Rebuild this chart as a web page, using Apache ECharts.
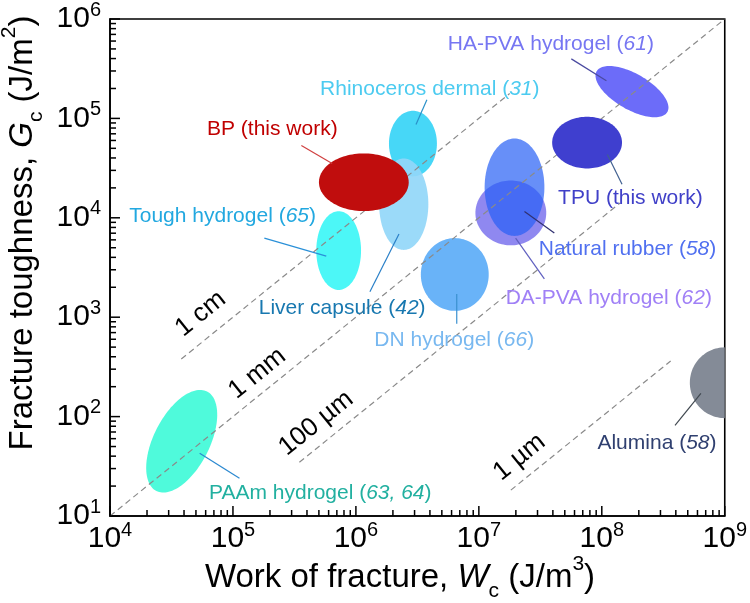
<!DOCTYPE html>
<html><head><meta charset="utf-8">
<script src="https://cdn.jsdelivr.net/npm/echarts@6/dist/echarts.min.js"></script>
<style>html,body{margin:0;padding:0;background:#fff}#c{width:750px;height:603px}</style>
</head><body><div id="c"></div>
<script>
const FONT = '"Liberation Sans", Arial, Helvetica, sans-serif';

// ---------- data ----------
const xTickValues = [1e4, 1e5, 1e6, 1e7, 1e8, 1e9];
const yTickValues = [1e1, 1e2, 1e3, 1e4, 1e5, 1e6];
const minorSteps = [2, 3, 4, 5, 6, 7, 8, 9];

// material regions: centre (W, G), half-span in decades, tilt in degrees
const regionNames = ['PAAm hydrogel', 'Tough hydrogel', 'Rhinoceros dermal', 'Liver capsule', 'DN hydrogel',
  'DA-PVA hydrogel', 'Natural rubber', 'HA-PVA hydrogel', 'Alumina', 'TPU', 'BP'];
const regionW = [3.83e4, 7.24e5, 2.91e6, 2.45e6, 6.37e6, 1.82e7, 1.95e7, 1.76e8, 1.0e9, 7.59e7, 1.16e6];
const regionG = [56.5, 4.68e3, 5.58e4, 1.37e4, 2.69e3, 1.12e4, 2.03e4, 1.86e5, 219, 5.71e4, 2.28e4];
const regionSpanW = [0.454, 0.182, 0.195, 0.20, 0.276, 0.288, 0.243, 0.332, 0.284, 0.284, 0.365];
const regionSpanG = [0.281, 0.396, 0.33, 0.46, 0.366, 0.326, 0.49, 0.18, 0.356, 0.26, 0.29];
const regionTilt = [63, 0, 0, 0, 0, 0, 0, -30, 0, 0, 0];

// characteristic-length lines (G = L * W), end points
const scaleNames = ['1 cm', '1 mm', '100 µm', '1 µm'];
const scaleLine1cm = [[3.8e4, 3.8e2], [1.78e7, 1.78e5]];
const scaleLine1mm = [[1e4, 1e1], [1e9, 1e6]];
const scaleLine100um = [[3.47e5, 34.7], [1.41e8, 1.41e4]];
const scaleLine1um = [[1.82e7, 18.2], [3.63e8, 363]];

// ---------- styles / layout ----------
const regionColors = ['#4ffadb', '#4cf7f7', '#47d7f7', 'rgba(147,215,249,0.92)', '#69b3f8',
  'rgba(96,85,233,0.7)', 'rgba(39,96,245,0.7)', '#6c6cf9', '#848b97', '#3f3fcf', '#c00d0d'];
const underIdx = [0, 1, 2, 3, 4, 5, 6, 7, 8];
const overIdx = [9, 10];

const labelTexts = ['PAAm hydrogel ({i|63, 64})', 'Tough hydrogel ({i|65})', 'Rhinoceros dermal ({i|31})',
  'Liver capsule ({i|42})', 'DN hydrogel ({i|66})', 'DA-PVA hydrogel ({i|62})', 'Natural rubber ({i|58})',
  'HA-PVA hydrogel ({i|61})', 'Alumina ({i|58})', 'TPU (this work)', 'BP (this work)'];
const labelColors = ['#22b0a0', '#22a8e0', '#4ccbf0', '#1878b0', '#78b8f0', '#a080f6', '#5070f0',
  '#7676f2', '#304070', '#4040c8', '#c00000'];
const leaderColors = ['#2a88d0', '#2a90d8', '#2a90c8', '#2a80c8', '#3a90d0', '#6060c0', '#303070',
  '#4a4aa0', '#404850', '#406090', '#d04040'];
// label anchors and leader ends, in data coordinates
const labelAt = [[5.13e5, 17.0], [8.24e4, 1.04e4], [3.99e6, 1.95e5], [7.73e5, 1.24e3], [6.31e6, 581],
  [1.14e8, 1.56e3], [1.62e8, 4.84e3], [3.85e7, 5.61e5], [2.81e8, 53.8], [1.71e8, 1.57e4], [2.09e5, 7.73e4]];
const leaderAt = [
  [[5.36e4, 42.8], [1.13e5, 24.0]],
  [[1.8e5, 6.25e3], [5.74e5, 4.12e3]],
  [[3.78e6, 1.54e5], [3.08e6, 8.67e4]],
  [[2.24e6, 6.86e3], [1.30e6, 1.80e3]],
  [[6.61e6, 1.71e3], [6.61e6, 859]],
  [[1.99e7, 6.25e3], [3.41e7, 2.43e3]],
  [[2.35e7, 1.16e4], [4.11e7, 7.02e3]],
  [[5.65e7, 3.97e5], [1.09e8, 2.39e5]],
  [[3.94e8, 81.6], [6.4e8, 171]],
  [[1.11e8, 4.34e4], [1.46e8, 2.17e4]],
  [[3.6e5, 5.33e4], [6.41e5, 3.52e4]]
];
const scaleLabelAt = [[5.46e4, 1.08e3], [1.58e5, 271], [4.75e5, 85.5], [2.14e7, 39.0]];

// ---------- helpers ----------
function decadePx(api) {
  const o = api.coord([xTickValues[0], yTickValues[0]]);
  const x1 = api.coord([xTickValues[1], yTickValues[0]]);
  const y1 = api.coord([xTickValues[0], yTickValues[1]]);
  return [x1[0] - o[0], o[1] - y1[1]];
}
function renderEllipse(params, api) {
  const i = api.value(2);
  const c = api.coord([api.value(0), api.value(1)]);
  const d = decadePx(api);
  const a = regionSpanW[i] * d[0], b = regionSpanG[i] * d[1];
  const th = regionTilt[i] * Math.PI / 180, ct = Math.cos(th), st = Math.sin(th);
  const pts = [];
  const N = 120;
  for (let k = 0; k < N; k++) {
    const t = k / N * Math.PI * 2;
    const u = a * Math.cos(t), v = b * Math.sin(t);
    pts.push([c[0] + u * ct - v * st, c[1] - (u * st + v * ct)]);
  }
  const cs = params.coordSys;
  return {
    type: 'polygon', shape: { points: pts }, style: { fill: regionColors[i] },
    clipPath: { type: 'rect', shape: { x: cs.x, y: cs.y, width: cs.width, height: cs.height } }
  };
}
function renderLabel(params, api) {
  const i = api.value(2);
  const p = api.coord([api.value(0), api.value(1)]);
  const a = api.coord(leaderAt[i][0]), b = api.coord(leaderAt[i][1]);
  return {
    type: 'group', children: [
      { type: 'line', shape: { x1: a[0], y1: a[1], x2: b[0], y2: b[1] }, style: { stroke: leaderColors[i], lineWidth: 1.2 } },
      { type: 'text', x: p[0], y: p[1], style: {
        text: labelTexts[i], fill: labelColors[i], fontSize: 21, fontFamily: FONT,
        align: 'center', verticalAlign: 'middle',
        rich: { i: { fontSize: 21, fontFamily: FONT, fontStyle: 'italic', fill: labelColors[i] } }
      } }
    ]
  };
}
function renderScaleLabel(params, api) {
  const i = api.value(2);
  const p = api.coord([api.value(0), api.value(1)]);
  const d = decadePx(api);
  return { type: 'text', x: p[0], y: p[1], rotation: Math.atan2(d[1], d[0]),
    style: { text: scaleNames[i], fill: '#000', fontSize: 26, fontFamily: FONT, align: 'center', verticalAlign: 'middle' } };
}
// tick marks (major = decades, minor = 2..9 x decade), drawn inward
const tickItems = [];
xTickValues.forEach((v, k) => {
  tickItems.push([v, yTickValues[0], 0, 1]);
  if (k < xTickValues.length - 1) minorSteps.forEach(m => tickItems.push([v * m, yTickValues[0], 0, 0]));
});
yTickValues.forEach((v, k) => {
  tickItems.push([xTickValues[0], v, 1, 1]);
  if (k < yTickValues.length - 1) minorSteps.forEach(m => tickItems.push([xTickValues[0], v * m, 1, 0]));
});
function renderTick(params, api) {
  const p = api.coord([api.value(0), api.value(1)]);
  const isY = api.value(2), major = api.value(3);
  const len = major ? 10 : 6;
  const shape = isY ? { x1: p[0], y1: p[1], x2: p[0] + len, y2: p[1] } : { x1: p[0], y1: p[1], x2: p[0], y2: p[1] - len };
  return { type: 'line', shape, style: { stroke: '#000', lineWidth: 1.5 } };
}

const tickFmt = v => '{a|10}{s|' + Math.round(Math.log10(v)) + '}';
const tickRich = {
  a: { fontSize: 30, fontFamily: FONT, color: '#000', lineHeight: 38 },
  s: { fontSize: 20, fontFamily: FONT, color: '#000', lineHeight: 26, verticalAlign: 'top' }
};
function axisCommon() {
  return {
    type: 'log', logBase: 10, splitNumber: 5,
    axisLine: { show: true, lineStyle: { color: '#000', width: 1.6 } },
    axisTick: { show: false }, minorTick: { show: false },
    splitLine: { show: false }, minorSplitLine: { show: false },
  };
}
const titleRich = {
  a: { fontSize: 33, fontFamily: FONT, fill: '#000', lineHeight: 48 },
  it: { fontSize: 33, fontFamily: FONT, fontStyle: 'italic', fill: '#000', lineHeight: 48 },
  sub: { fontSize: 21, fontFamily: FONT, fill: '#000', lineHeight: 21, verticalAlign: 'bottom' },
  sup: { fontSize: 21, fontFamily: FONT, fill: '#000', lineHeight: 33, verticalAlign: 'top' }
};

const chart = echarts.init(document.getElementById('c'), null, { renderer: 'canvas' });
const lineStyle = { type: [6, 4], color: '#8a8a8a', width: 1.2 };
chart.setOption({
  animation: false,
  backgroundColor: '#fff',
  grid: { left: 110, top: 17, right: 23, bottom: 87, show: true, borderColor: '#000', borderWidth: 1.6 },
  xAxis: Object.assign(axisCommon(), {
    min: xTickValues[0], max: xTickValues[xTickValues.length - 1],
    axisLabel: { formatter: tickFmt, rich: tickRich, margin: 4 }
  }),
  yAxis: Object.assign(axisCommon(), {
    min: yTickValues[0], max: yTickValues[yTickValues.length - 1],
    axisLabel: { formatter: tickFmt, rich: tickRich, margin: 9 }
  }),
  graphic: [
    { type: 'text', x: 23, y: 233, rotation: Math.PI / 2, style: {
      text: '{a|Fracture toughness, }{it|G}{sub|c}{a| (J/m}{sup|2}{a|)}', align: 'center', verticalAlign: 'middle', rich: titleRich } },
    { type: 'text', x: 400, y: 578, style: {
      text: '{a|Work of fracture, }{it|W}{sub|c}{a| (J/m}{sup|3}{a|)}', align: 'center', verticalAlign: 'middle', rich: titleRich } }
  ],
  series: [
    { type: 'custom', z: 2, silent: true, renderItem: renderEllipse,
      data: underIdx.map(i => [regionW[i], regionG[i], i]) },
    { type: 'line', z: 3, silent: true, symbol: 'none', lineStyle, data: scaleLine1cm },
    { type: 'line', z: 3, silent: true, symbol: 'none', lineStyle, data: scaleLine1mm },
    { type: 'line', z: 3, silent: true, symbol: 'none', lineStyle, data: scaleLine100um },
    { type: 'line', z: 3, silent: true, symbol: 'none', lineStyle, data: scaleLine1um },
    { type: 'custom', z: 4, silent: true, renderItem: renderEllipse,
      data: overIdx.map(i => [regionW[i], regionG[i], i]) },
    { type: 'custom', z: 5, silent: true, renderItem: renderLabel,
      data: labelAt.map((p, i) => [p[0], p[1], i]) },
    { type: 'custom', z: 5, silent: true, renderItem: renderScaleLabel,
      data: scaleLabelAt.map((p, i) => [p[0], p[1], i]) },
    { type: 'custom', z: 6, silent: true, renderItem: renderTick, data: tickItems }
  ]
});
</script></body></html>
